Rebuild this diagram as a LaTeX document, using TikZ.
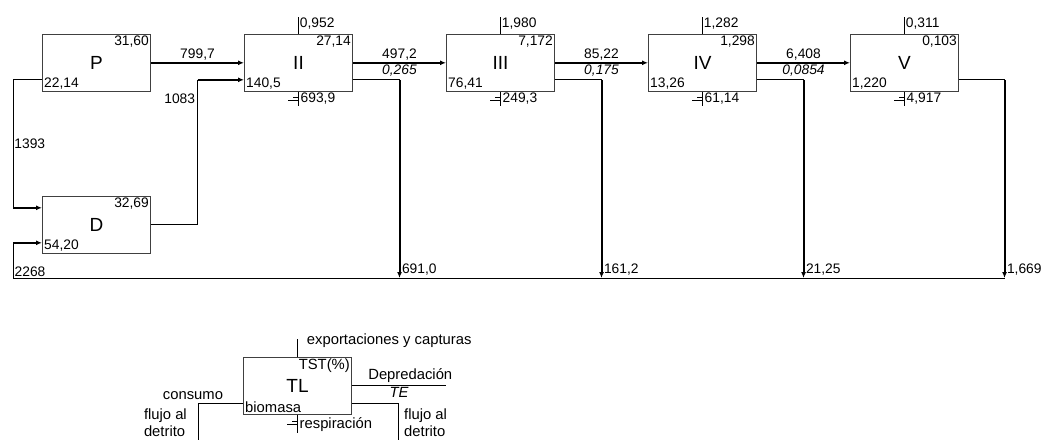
\documentclass[tikz,border=0pt]{standalone}
\usepackage{fontspec}
\setmainfont{Liberation Sans}
\usetikzlibrary{arrows.meta,positioning,calc}

\begin{document}
\begin{tikzpicture}[x=1pt,y=-1pt,node distance=104pt and 93pt,
  comp/.style={rectangle,draw=black!75,line width=1pt,minimum width=108pt,
               minimum height=57pt,inner sep=0pt,font=\fontsize{19}{21}\selectfont},
  num/.style={font=\fontsize{13.8}{15}\selectfont,inner sep=2pt},
  txt/.style={font=\fontsize{14.8}{17}\selectfont,inner sep=2pt,align=left},
  flow/.style={line width=2pt,-{Latex[length=6pt,width=5pt]}},
  link/.style={line width=0.9pt}]
\useasboundingbox (0,0) rectangle (1041,440);

% compartments
\node[comp] (P) at (96.5,62.8) {P};
\node[comp,right=of P]   (II)  {II};
\node[comp,right=of II]  (III) {III};
\node[comp,right=of III] (IV)  {IV};
\node[comp,right=of IV]  (V)   {V};
\node[comp,below=of P]   (D)   {D};

\foreach \nd/\a/\b in {P/{31,60}/{22,14},II/{27,14}/{140,5},III/{7,172}/{76,41},
    IV/{1,298}/{13,26},V/{0,103}/{1,220},D/{32,69}/{54,20}} {
  \node[num,anchor=north east] (\nd-tst) at (\nd.north east) {\a};
  \node[num,anchor=south west] (\nd-bio) at (\nd.south west) {\b};
}

% exports and respiration
\foreach \nd/\e/\r in {II/{0,952}/{693,9},III/{1,980}/{249,3},
    IV/{1,282}/{61,14},V/{0,311}/{4,917}} {
  \draw[link] (\nd.north) -- ++(0,-17)
    node[num,anchor=north west,inner sep=1pt] (\nd-exp) {\e};
  \draw[link] (\nd.south) -- ++(0,14)
    ([yshift=-6pt]\nd.south) -- ++(-6,0) ([yshift=-9pt]\nd.south) -- ++(-11,0);
  \node[num,anchor=north west,inner sep=1pt] (\nd-res) at ([xshift=1pt]\nd.south) {\r};
}

% predation
\draw[flow] (P) -- node[num,above,inner sep=1.5pt] (P-pred) {799,7} (II);
\foreach \nd/\nx/\f/\t in {II/III/{497,2}/{0,265},III/IV/{85,22}/{0,175},
    IV/V/{6,408}/{0,0854}} {
  \draw[flow] (\nd) -- node[num,above,inner sep=1.5pt] (\nd-pred) {\f}
    node[num,below,inner sep=1.5pt] (\nd-te) {\itshape\t} (\nx);
}

% flow to detritus
\coordinate (lft) at (13,278);
\coordinate (mV) at ([xshift=45.5pt]V.east);
\coordinate (oV) at ([yshift=-17pt]V.east);
\foreach \nd/\nx/\v in {II/III/{691,0},III/IV/{161,2},IV/V/{21,25}} {
  \coordinate (o\nd) at ([yshift=-17pt]\nd.east);
  \coordinate (m\nd) at ($(\nd.east)!.5!(\nx.west)$);
  \draw[link] (o\nd) -- (o\nd -| m\nd);
  \draw[flow] (o\nd -| m\nd) -- (m\nd |- lft)
    node[num,anchor=south west,inner sep=1.5pt] (\nd-det) {\v};
}
\draw[link] (oV) -- (oV -| mV);
\draw[flow] (oV -| mV) -- (mV |- lft)
  node[num,anchor=south west,inner sep=1.5pt] (V-det) {1,669};
\draw[link] (lft) -- (mV |- lft);

% into detritus and back to II
\coordinate (oP) at ([yshift=-17pt]P.west);
\coordinate (dA) at ([yshift=17pt]D.west);
\coordinate (dB) at ([yshift=-18pt]D.west);
\draw[link] (oP) -- (oP -| lft) -- node[num,anchor=west,inner sep=1pt] (P-det) {1393} (dA -| lft);
\draw[flow] (dA -| lft) -- (dA);
\draw[link] (lft) -- (dB -| lft);
\draw[flow] (dB -| lft) -- (dB);
\node[num,anchor=south west,inner sep=1.5pt] (D-in) at (lft) {2268};
\coordinate (mP) at ($(P.east)!.5!(II.west)$);
\coordinate (iII) at ([yshift=-17pt]II.west);
\draw[link] (D.east) -- (D.east -| mP) -- node[num,anchor=east,pos=0.87] (D-out) {1083} (iII -| mP);
\draw[flow] (iII -| mP) -- (iII);

% key
\node[comp] (TL) at (297.5,385.5) {TL};
\node[txt,anchor=north east] (TL-tst) at (TL.north east) {TST(\%)};
\node[txt,anchor=south west] (TL-bio) at (TL.south west) {biomasa};
\draw[link] (TL.north) -- ++(0,-18)
  node[txt,anchor=west,inner sep=1pt,xshift=8pt,yshift=-2pt] (TL-exp) {exportaciones y capturas};
\draw[link] (TL.south) -- ++(0,18)
  ([yshift=-7pt]TL.south) -- ++(-6,0) ([yshift=-10pt]TL.south) -- ++(-11,0);
\node[txt,anchor=north west,inner sep=1pt] (TL-res) at ([xshift=1pt,yshift=-2pt]TL.south) {respiración};
\coordinate (dep) at ([xshift=94pt]TL.east);
\draw[link] (TL.east) -- node[txt,above,pos=0.62] (TL-pred) {Depredación}
  node[txt,below,pos=0.5,inner sep=1pt] (TL-te) {\itshape TE} (dep);
\coordinate (oTL) at ([yshift=-17.5pt]TL.east);
\coordinate (iTL) at ([yshift=-17.5pt]TL.west);
\coordinate (fr) at (398,440);
\coordinate (fl) at (198,440);
\draw[link] (oTL) -- (oTL -| fr) -- (fr);
\draw[link] (iTL) -- (iTL -| fl) -- (fl);
\node[txt,anchor=north west] (TL-det) at ([xshift=4pt,yshift=-4pt]oTL -| fr) {flujo al\\detrito};
\node[txt,anchor=north east] (TL-in) at ([xshift=-9pt,yshift=-4pt]iTL -| fl) {flujo al\\detrito};
\node[txt,anchor=south,inner sep=3pt] (TL-con) at ([xshift=-5pt]iTL -| fl) {consumo};
\end{tikzpicture}
\end{document}
